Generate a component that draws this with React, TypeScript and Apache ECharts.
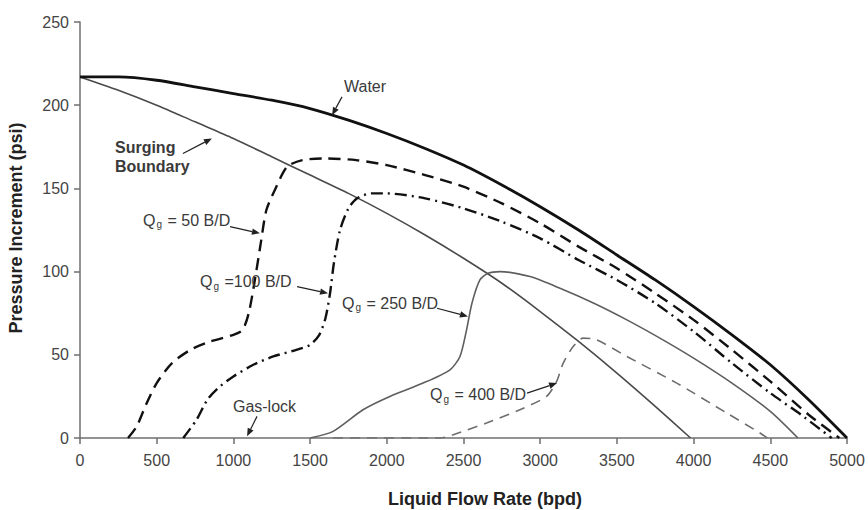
import { useEffect, useRef } from "react";
import * as echarts from "echarts";

type Pt = [number, number];

// Pump head curves: [liquid rate (bpd), pressure increment (psi)]
const waterCurve: Pt[] = [
  [0, 217], [250, 217], [500, 215], [750, 211], [1000, 207], [1250, 203], [1500, 198],
  [1750, 191], [2000, 183], [2250, 174], [2500, 164], [2750, 152], [3000, 139], [3250, 125],
  [3500, 110], [3750, 95], [4000, 79], [4250, 62], [4500, 44], [4750, 23], [5000, 0],
];

const surgingBoundary: Pt[] = [
  [0, 217], [250, 209], [500, 200], [750, 190], [1000, 180], [1250, 169], [1500, 158],
  [1750, 147], [2000, 135], [2250, 122], [2500, 108], [2750, 93], [3000, 76], [3250, 58],
  [3500, 39], [3750, 19], [3980, 0],
];

const qg50Curve: Pt[] = [
  [313, 0], [370, 7], [430, 20], [500, 33], [600, 45], [720, 53], [850, 58], [1000, 62],
  [1060, 65], [1100, 75], [1140, 95], [1180, 118], [1215, 137], [1275, 150], [1350, 163],
  [1450, 167], [1600, 168], [1800, 167], [2000, 164], [2250, 158], [2500, 151], [2750, 141],
  [3000, 129], [3250, 115], [3500, 102], [3750, 87], [4000, 71], [4250, 53], [4500, 34],
  [4750, 14], [4950, 0],
];

const qg100Curve: Pt[] = [
  [673, 0], [760, 11], [830, 23], [900, 30], [1000, 37], [1130, 44], [1260, 49], [1410, 53],
  [1500, 56], [1560, 62], [1600, 72], [1630, 87], [1655, 105], [1695, 125], [1750, 138],
  [1805, 144], [1900, 147], [2000, 147], [2250, 144], [2500, 138], [2750, 130], [3000, 120],
  [3250, 107], [3500, 95], [3750, 81], [4000, 64], [4250, 45], [4500, 27], [4700, 14],
  [4900, 0],
];

const qg250Curve: Pt[] = [
  [1500, 0], [1650, 4], [1845, 17], [2020, 25], [2237, 33], [2412, 41], [2477, 49],
  [2520, 65], [2555, 81], [2607, 95], [2660, 99], [2738, 100], [2933, 97], [3129, 90],
  [3350, 81], [3565, 71], [3800, 59], [4000, 48], [4250, 33], [4500, 16], [4680, 0],
];

const qg400Curve: Pt[] = [
  [1650, 0], [2350, 0], [2433, 2], [2650, 9], [2868, 17], [3041, 25], [3107, 34],
  [3150, 45], [3215, 55], [3280, 60], [3367, 59], [3565, 49], [3890, 33], [4216, 15],
  [4433, 3], [4480, 0],
];

const xAxisTitle = "Liquid Flow Rate (bpd)";
const yAxisTitle = "Pressure Increment (psi)";

type Callout = {
  text: string;
  anchor: Pt;
  align: "left" | "center";
  bold?: boolean;
  from: Pt;
  to: Pt;
};

// Callout labels with their pointer arrows, placed in data units
const callouts: Callout[] = [
  { text: "Water", anchor: [1858, 211], align: "center", from: [1708, 205], to: [1643, 194] },
  { text: "Surging\nBoundary", anchor: [228, 169], align: "left", bold: true, from: [671, 171], to: [860, 180] },
  { text: "Q{g|g} = 50 B/D", anchor: [411, 131], align: "left", from: [978, 127], to: [1173, 123] },
  { text: "Q{g|g} =100 B/D", anchor: [782, 94], align: "left", from: [1415, 91], to: [1617, 87] },
  { text: "Q{g|g} = 250 B/D", anchor: [1708, 81], align: "left", from: [2327, 78], to: [2529, 73] },
  { text: "Q{g|g} = 400 B/D", anchor: [2282, 26], align: "left", from: [2914, 27], to: [3110, 33] },
  { text: "Gas-lock", anchor: [997, 19], align: "left", from: [1154, 13], to: [1089, 1] },
];

const FONT = "'Liberation Sans', Arial, sans-serif";
const TEXT_COLOR = "#3a3a3a";

export default function App() {
  const ref = useRef<HTMLDivElement>(null);

  useEffect(() => {
    if (!ref.current) return;
    const chart = echarts.init(ref.current, undefined, { renderer: "svg" });

    const lineSeries = (
      name: string,
      data: Pt[],
      color: string,
      width: number,
      type: any,
      z: number
    ) => ({
      name,
      type: "line",
      data,
      showSymbol: false,
      smooth: 0.25,
      z,
      lineStyle: { color, width, type, cap: "butt" },
      silent: true,
    });

    chart.setOption({
      animation: false,
      backgroundColor: "#ffffff",
      grid: { left: 80, right: 21, top: 22, bottom: 72, containLabel: false },
      xAxis: {
        type: "value",
        min: 0,
        max: 5000,
        interval: 500,
        axisLine: { show: true, lineStyle: { color: "#6f6f6f", width: 1.5 } },
        axisTick: { show: true, inside: false, length: 6, lineStyle: { color: "#6f6f6f", width: 1.5 } },
        axisLabel: {
          color: "#444",
          fontSize: 16,
          fontFamily: FONT,
          margin: 14,
          formatter: (v: number) => String(v),
        },
        splitLine: { show: false },
      },
      yAxis: {
        type: "value",
        min: 0,
        max: 250,
        interval: 50,
        axisLine: { show: true, lineStyle: { color: "#6f6f6f", width: 1.5 } },
        axisTick: { show: true, inside: false, length: 6, lineStyle: { color: "#6f6f6f", width: 1.5 } },
        axisLabel: {
          color: "#444",
          fontSize: 16,
          fontFamily: FONT,
          margin: 11,
          formatter: (v: number) => String(v),
        },
        splitLine: { show: false },
      },
      series: [
        lineSeries("Surging Boundary", surgingBoundary, "#4a4a4a", 1.6, "solid", 2),
        lineSeries("Qg = 400 B/D", qg400Curve, "#6e6e6e", 1.6, [10, 7], 2),
        lineSeries("Qg = 250 B/D", qg250Curve, "#5e5e5e", 1.6, "solid", 2),
        lineSeries("Qg = 100 B/D", qg100Curve, "#111", 2.4, [12, 5, 2, 5], 3),
        lineSeries("Qg = 50 B/D", qg50Curve, "#111", 2.4, [12, 7], 3),
        lineSeries("Water", waterCurve, "#111", 2.8, "solid", 4),
      ],
    });

    const px = (p: Pt) => chart.convertToPixel({ gridIndex: 0 }, p) as number[];

    const graphics: any[] = [];
    callouts.forEach((c) => {
      const a = px(c.anchor);
      graphics.push({
        type: "text",
        x: a[0],
        y: a[1],
        z: 10,
        style: {
          text: c.text,
          fill: TEXT_COLOR,
          fontSize: 16,
          fontFamily: FONT,
          fontWeight: c.bold ? "bold" : "normal",
          align: c.align,
          verticalAlign: "middle",
          lineHeight: 19,
          rich: {
            g: { fontSize: 10, fontFamily: FONT, fill: TEXT_COLOR, verticalAlign: "bottom", lineHeight: 10, padding: [6, 1, 0, 1] },
          },
        },
      });
      const s = px(c.from);
      const t = px(c.to);
      const dx = t[0] - s[0];
      const dy = t[1] - s[1];
      const len = Math.hypot(dx, dy) || 1;
      const ux = dx / len;
      const uy = dy / len;
      const head = 8;
      const half = 3.2;
      const bx = t[0] - ux * head;
      const by = t[1] - uy * head;
      graphics.push({
        type: "line",
        z: 10,
        shape: { x1: s[0], y1: s[1], x2: bx, y2: by },
        style: { stroke: "#222", lineWidth: 1.2 },
      });
      graphics.push({
        type: "polygon",
        z: 10,
        shape: {
          points: [
            [t[0], t[1]],
            [bx - uy * half, by + ux * half],
            [bx + uy * half, by - ux * half],
          ],
        },
        style: { fill: "#222" },
      });
    });

    graphics.push({
      type: "text",
      x: 485,
      y: 499,
      style: {
        text: xAxisTitle,
        fill: "#222",
        fontSize: 18,
        fontWeight: "bold",
        fontFamily: FONT,
        align: "center",
        verticalAlign: "middle",
      },
    });
    graphics.push({
      type: "text",
      x: 16,
      y: 228,
      rotation: Math.PI / 2,
      style: {
        text: yAxisTitle,
        fill: "#222",
        fontSize: 18,
        fontWeight: "bold",
        fontFamily: FONT,
        align: "center",
        verticalAlign: "middle",
      },
    });

    chart.setOption({ graphic: graphics });

    return () => chart.dispose();
  }, []);

  return (
    <div
      ref={ref}
      style={{ position: "fixed", left: 0, top: 0, width: 868, height: 510 }}
    />
  );
}
